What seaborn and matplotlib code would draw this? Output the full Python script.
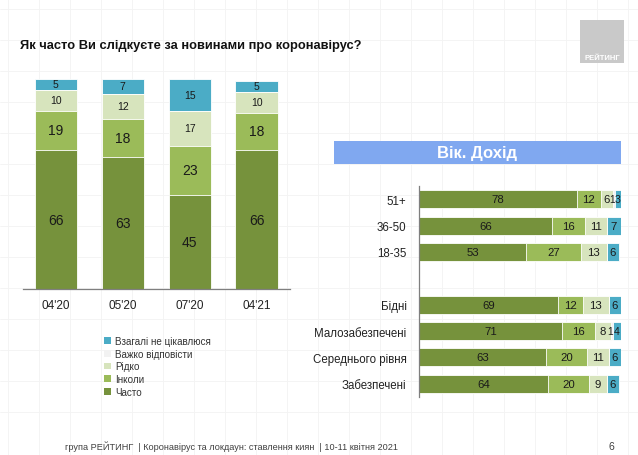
import numpy as np
import pandas as pd
import matplotlib
matplotlib.use("Agg")
import matplotlib.pyplot as plt
from matplotlib.patches import Rectangle, Patch
import seaborn as sns

# ---------------- data ----------------
periods = ["04'20", "05'20", "07'20", "04'21"]
often_t = [66, 63, 45, 66]
sometimes_t = [19, 18, 23, 18]
rarely_t = [10, 12, 17, 10]
hard_t = [0, 0, 0, 0]
never_t = [5, 7, 15, 5]

groups = ["51+", "36-50", "18-35", " ", "Бідні", "Малозабезпечені",
          "Середнього рівня", "Забезпечені"]
often_g = [78, 66, 53, 0, 69, 71, 63, 64]
sometimes_g = [12, 16, 27, 0, 12, 16, 20, 20]
rarely_g = [6, 11, 13, 0, 13, 8, 11, 9]
hard_g = [1, 0, 0, 0, 0, 1, 0, 0]
never_g = [3, 7, 6, 0, 6, 4, 6, 6]

series_names = ["Часто", "Інколи", "Рідко", "Важко відповісти", "Взагалі не цікавлюся"]
colors = ["#76923C", "#9BBB59", "#D7E4BD", "#F2F2F2", "#4BACC6"]

title = "Як часто Ви слідкуєте за новинами про коронавірус?"
banner = "Вік. Дохід"
footer = "група РЕЙТИНГ  | Коронавірус та локдаун: ставлення киян  | 10-11 квітня 2021"
page = "6"
logo = "РЕЙТИНГ"

# ---------------- style ----------------
sns.set_style("white")
FONT = ["Liberation Sans Narrow", "Liberation Sans", "DejaVu Sans"]
plt.rcParams["font.family"] = FONT

W, H = 638, 456
fig = plt.figure(figsize=(W / 100, H / 100), dpi=100)
fig.patch.set_facecolor("white")


def fx(px):
    return px / W


def fy(py):
    return 1 - py / H


# background graph-paper grid
bg = fig.add_axes([0, 0, 1, 1], zorder=-10)
bg.set_xlim(0, W)
bg.set_ylim(H, 0)
bg.axis("off")
for gx in np.arange(8, W, 31):
    bg.axvline(gx, color="#F3F3F3", lw=0.6)
for gy in np.arange(10, H - 30, 31):
    bg.axhline(gy, color="#F3F3F3", lw=0.6)

# ---------------- left chart: stacked columns ----------------
dft = pd.DataFrame({"period": periods, "Часто": often_t, "Інколи": sometimes_t,
                    "Рідко": rarely_t, "Важко відповісти": hard_t,
                    "Взагалі не цікавлюся": never_t})
cum_t = dft[series_names].cumsum(axis=1)

ax1 = fig.add_axes([fx(22.5), fy(290), fx(290) - fx(22.5), fy(80) - fy(290)])
ax1.patch.set_alpha(0)
for name, col in reversed(list(zip(series_names, colors))):
    sns.barplot(x=dft["period"], y=cum_t[name], color=col, saturation=1,
                width=0.63, edgecolor="white", linewidth=0.6, ax=ax1, zorder=2)
ax1.set_ylim(0, 100)
ax1.set_xlim(-0.5, 3.5)
ax1.set_xlabel("")
ax1.set_ylabel("")
ax1.set_yticks([])
for s in ["top", "right", "left"]:
    ax1.spines[s].set_visible(False)
ax1.spines["bottom"].set_color("#7F7F7F")
ax1.spines["bottom"].set_linewidth(0.9)
ax1.set_xticks(range(len(periods)))
ax1.set_xticklabels(periods, fontsize=8.5, color="#222222")
ax1.tick_params(axis="x", which="major", length=0, pad=7)
ax1.set_xticks(np.arange(-0.5, len(periods), 1), minor=True)
ax1.tick_params(axis="x", which="minor", length=4, color="#7F7F7F", width=0.9,
                direction="out")

for i in range(len(periods)):
    base = 0
    for k, name in enumerate(series_names):
        v = dft[name][i]
        if v > 0:
            fs = 10 if k < 2 else 7.5
            ax1.text(i, base + v / 2, str(v), ha="center", va="center",
                     fontsize=fs, color="#1A1A1A", zorder=5)
        base += v

# legend (manual handles)
handles = [Patch(facecolor=c, edgecolor="none") for c in reversed(colors)]
labels = list(reversed(series_names))
fig.legend(handles, labels, loc="upper left", bbox_to_anchor=(fx(100), fy(333)),
           frameon=False, fontsize=7.1, handlelength=0.7, handleheight=0.7,
           handletextpad=0.4, labelspacing=0.28, borderaxespad=0,
           labelcolor="#333333")

# ---------------- right chart: stacked horizontal bars ----------------
dfg = pd.DataFrame({"group": groups, "Часто": often_g, "Інколи": sometimes_g,
                    "Рідко": rarely_g, "Важко відповісти": hard_g,
                    "Взагалі не цікавлюся": never_g})
cum_g = dfg[series_names].cumsum(axis=1)

ax2 = fig.add_axes([fx(419), fy(398), fx(621) - fx(419), fy(187) - fy(398)])
ax2.patch.set_alpha(0)
for name, col in reversed(list(zip(series_names, colors))):
    sns.barplot(y=dfg["group"], x=cum_g[name], color=col, saturation=1,
                orient="h", width=0.68, edgecolor="white", linewidth=0.6,
                ax=ax2, zorder=2)
ax2.set_xlim(0, 100)
ax2.set_ylim(len(groups) - 0.5, -0.5)
ax2.set_xlabel("")
ax2.set_ylabel("")
ax2.set_xticks([])
for s in ["top", "right", "bottom"]:
    ax2.spines[s].set_visible(False)
ax2.spines["left"].set_color("#7F7F7F")
ax2.spines["left"].set_linewidth(0.9)
ax2.set_yticks(range(len(groups)))
ax2.set_yticklabels(groups, fontsize=8.3, color="#222222")
ax2.tick_params(axis="y", which="major", length=0, pad=9)
ax2.set_yticks(np.arange(-0.5, len(groups), 1), minor=True)
ax2.tick_params(axis="y", which="minor", length=4, color="#7F7F7F", width=0.9,
                direction="out")

for i in range(len(groups)):
    base = 0
    for k, name in enumerate(series_names):
        v = dfg[name][i]
        if v > 0:
            if k == 3 and v < 3:
                # tiny segment: right-align label at segment end to avoid clash
                ax2.text(base + v - 0.15, i, str(v), ha="right", va="center",
                         fontsize=7.4, color="#1A1A1A", zorder=5)
            else:
                fs = 7.6 if v < 5 and k >= 3 else 8.2
                ax2.text(base + v / 2, i, str(v), ha="center", va="center",
                         fontsize=fs, color="#1A1A1A", zorder=5)
        base += v

# ---------------- banner, title, logo, footer ----------------
fig.patches.append(Rectangle((fx(334), fy(165)), fx(621) - fx(334), fy(142) - fy(165),
                             transform=fig.transFigure, facecolor="#80A8F0",
                             edgecolor="none", zorder=1))
fig.text(fx(477), fy(153.5), banner, ha="center", va="center", fontsize=12,
         fontweight="bold", color="white", family=["Liberation Sans", "DejaVu Sans"])

fig.text(fx(20), fy(46), title, ha="left", va="center", fontsize=9.3,
         fontweight="bold", color="#111111")

fig.patches.append(Rectangle((fx(580), fy(64)), fx(44), fy(21) - fy(64),
                             transform=fig.transFigure, facecolor="#C9C9C9",
                             edgecolor="none", zorder=1))
fig.text(fx(602), fy(58), logo, ha="center", va="center", fontsize=5.5,
         fontweight="bold", color="white")

fig.text(fx(65), fy(447), footer, ha="left", va="center", fontsize=6.6,
         color="#404040")
fig.text(fx(611), fy(447), page, ha="center", va="center", fontsize=7.5,
         color="#404040")

fig.savefig("out.png", dpi=100, facecolor="white")
